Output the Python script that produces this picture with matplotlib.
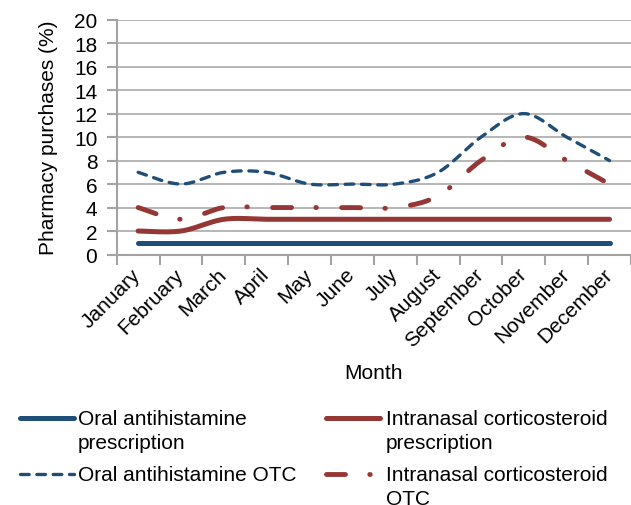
import numpy as np
import matplotlib.pyplot as plt
from matplotlib.lines import Line2D

plt.rcParams['font.family'] = ['Liberation Sans', 'DejaVu Sans']

months = ['January', 'February', 'March', 'April', 'May', 'June', 'July',
          'August', 'September', 'October', 'November', 'December']
oral_rx = [1, 1, 1, 1, 1, 1, 1, 1, 1, 1, 1, 1]
nasal_rx = [2, 2, 3, 3, 3, 3, 3, 3, 3, 3, 3, 3]
oral_otc = [7, 6, 7, 7, 6, 6, 6, 7, 10, 12, 10, 8]
nasal_otc = [4, 3, 4, 4, 4, 4, 4, 5, 8, 10, 8, 6]

labels = ['Oral antihistamine\nprescription',
          'Intranasal corticosteroid\nprescription',
          'Oral antihistamine OTC',
          'Intranasal corticosteroid\nOTC']

BLUE = '#1f4e79'
RED = '#953735'
GREY = '#a3a3a3'

styles = [
    dict(color=BLUE, lw=3.6, solid_capstyle='round'),
    dict(color=RED, lw=3.6, solid_capstyle='round'),
    dict(color=BLUE, lw=2.4, dashes=(2.6, 2.3), dash_capstyle='round'),
    dict(color=RED, lw=3.5, dashes=(3.9, 5.0, 0.1, 5.2), dash_capstyle='round'),
]


def smooth(x, y, steps=25):
    # bezier smoothing, same idea as Excel's "smoothed line"
    x = np.asarray(x, float)
    y = np.asarray(y, float)
    n = len(x)
    xs, ys = [x[0]], [y[0]]
    t = np.linspace(0, 1, steps)[1:]
    for i in range(n - 1):
        i0 = max(i - 1, 0)
        i3 = min(i + 2, n - 1)
        c1x = x[i] + (x[i + 1] - x[i0]) / 6
        c1y = y[i] + (y[i + 1] - y[i0]) / 6
        c2x = x[i + 1] - (x[i3] - x[i]) / 6
        c2y = y[i + 1] - (y[i3] - y[i]) / 6
        bx = (1 - t) ** 3 * x[i] + 3 * (1 - t) ** 2 * t * c1x + 3 * (1 - t) * t ** 2 * c2x + t ** 3 * x[i + 1]
        by = (1 - t) ** 3 * y[i] + 3 * (1 - t) ** 2 * t * c1y + 3 * (1 - t) * t ** 2 * c2y + t ** 3 * y[i + 1]
        xs.extend(bx)
        ys.extend(by)
    return np.array(xs), np.array(ys)


W, H = 631, 506
fig = plt.figure(figsize=(W / 100, H / 100), dpi=100)
ax = fig.add_axes([116.7 / W, 1 - 255.5 / H, 1 - 116.7 / W, (255.5 - 20.7) / H])

x = np.arange(len(months))
for series, st in zip([oral_rx, nasal_rx, oral_otc, nasal_otc], styles):
    sx, sy = smooth(x, series)
    ax.plot(sx, sy, **st)

ax.set_xlim(-0.5, 11.5)
ax.set_ylim(0, 20)
ax.set_yticks(range(0, 21, 2))
ax.grid(axis='y', color=GREY, lw=1.1)
ax.set_axisbelow(True)
for s in ['top', 'right']:
    ax.spines[s].set_visible(False)
for s in ['left', 'bottom']:
    ax.spines[s].set_color(GREY)
    ax.spines[s].set_linewidth(1.5)

ax.set_xticks(x)
ax.set_xticklabels(months, rotation=45, ha='right', va='center', rotation_mode='anchor')
ax.set_xticks(np.arange(-0.5, 12, 1), minor=True)
ax.tick_params(axis='x', which='major', length=0, pad=12, labelsize=15)
ax.tick_params(axis='x', which='minor', length=7, width=1.5, color=GREY)
ax.tick_params(axis='y', length=7, width=1.5, color=GREY, pad=7, labelsize=15)

ax.set_xlabel('Month', fontsize=15)
ax.xaxis.set_label_coords(0.5, -0.462)
ax.set_ylabel('Pharmacy purchases (%)', fontsize=15)
ax.yaxis.set_label_coords(-0.114, 0.5)

# legend drawn by hand, two columns under the chart
legend_pos = [(17, 419, 78), (323, 419, 386), (17, 475, 78), (323, 475, 386)]
for (x0, yy, tx), st, lab in zip(legend_pos, styles, labels):
    fy = 1 - yy / H
    ln = Line2D([(x0 + 2.5) / W, (x0 + 56.5) / W], [fy, fy], transform=fig.transFigure, **st)
    fig.add_artist(ln)
    fig.text(tx / W, 1 - (yy - 8.5) / H, lab, fontsize=15, va='top', ha='left',
             linespacing=1.3)

fig.savefig('out.png', dpi=100)
